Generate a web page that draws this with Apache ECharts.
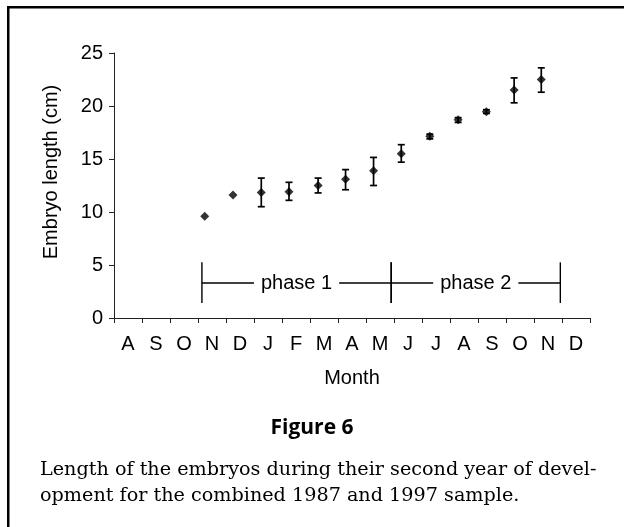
<!DOCTYPE html>
<html>
<head>
<meta charset="utf-8">
<script src="https://cdn.jsdelivr.net/npm/echarts@6/dist/echarts.min.js"></script>
<style>
  html, body { margin: 0; padding: 0; background: #fff; }
  #main { width: 624px; height: 527px; }
</style>
</head>
<body>
<div id="main"></div>
<script>
  // month labels along the bottom (Aug .. Dec of the following year)
  var months = ['A', 'S', 'O', 'N', 'D', 'J', 'F', 'M', 'A', 'M', 'J', 'J', 'A', 'S', 'O', 'N', 'D'];
  // sample positions on the month scale (0 = start of first A)
  var sampleX = [3.24, 4.25, 5.26, 6.25, 7.29, 8.27, 9.27, 10.26, 11.28, 12.29, 13.3, 14.29, 15.26];
  var meanLen = [9.6, 11.6, 11.85, 11.9, 12.5, 13.1, 13.9, 15.5, 17.15, 18.7, 19.45, 21.5, 22.5];
  var errLow  = [null, null, 10.5, 11.1, 11.8, 12.1, 12.5, 14.7, 16.9, 18.45, 19.3, 20.3, 21.3];
  var errHigh = [null, null, 13.2, 12.8, 13.2, 14.0, 15.15, 16.35, 17.35, 18.9, 19.65, 22.65, 23.6];
  var yTicks = [0, 5, 10, 15, 20, 25];
  // phase bracket
  var phaseStart = [3.14, 9.9];
  var phaseEnd = [9.9, 15.94];
  var phaseNames = ['phase 1', 'phase 2'];
  var phaseY = 3.3, phaseTop = 5.25, phaseBottom = 1.42;

  var sans = '"Liberation Sans", Arial, sans-serif';

  var points = sampleX.map(function (x, i) { return [x, meanLen[i]]; });
  var bars = [];
  sampleX.forEach(function (x, i) {
    if (errLow[i] != null) bars.push([x, errLow[i], errHigh[i]]);
  });
  var phases = phaseNames.map(function (n, i) { return [phaseStart[i], phaseEnd[i], n]; });

  var chart = echarts.init(document.getElementById('main'));
  chart.setOption({
    animation: false,
    backgroundColor: '#fff',
    grid: { left: 114, right: 34, top: 53, bottom: 209 },
    xAxis: [{
      type: 'category',
      data: months,
      boundaryGap: true,
      name: 'Month',
      nameLocation: 'middle',
      nameGap: 50,
      nameTextStyle: { fontFamily: sans, fontSize: 20, color: '#000' },
      axisLine: { lineStyle: { color: '#222', width: 1 } },
      axisTick: { show: true, length: 5, lineStyle: { color: '#222' } },
      axisLabel: { fontFamily: sans, fontSize: 20, color: '#000', margin: 16, interval: 0 },
      splitLine: { show: false }
    }, {
      type: 'value',
      min: 0,
      max: months.length,
      show: false
    }],
    yAxis: {
      type: 'value',
      min: yTicks[0],
      max: yTicks[yTicks.length - 1],
      interval: 5,
      axisLine: { show: true, lineStyle: { color: '#222', width: 1 } },
      axisTick: { show: true, length: 5, lineStyle: { color: '#222' } },
      axisLabel: { fontFamily: sans, fontSize: 20, color: '#000', margin: 11 },
      splitLine: { show: false }
    },
    series: [{
      type: 'custom',
      xAxisIndex: 1,
      data: bars,
      renderItem: function (params, api) {
        var top = api.coord([api.value(0), api.value(2)]);
        var bot = api.coord([api.value(0), api.value(1)]);
        var half = 3.5;
        var st = { stroke: '#000', lineWidth: 1.7 };
        return {
          type: 'group',
          children: [
            { type: 'line', shape: { x1: top[0], y1: top[1], x2: bot[0], y2: bot[1] }, style: st },
            { type: 'line', shape: { x1: top[0] - half, y1: top[1], x2: top[0] + half, y2: top[1] }, style: st },
            { type: 'line', shape: { x1: bot[0] - half, y1: bot[1], x2: bot[0] + half, y2: bot[1] }, style: st }
          ]
        };
      },
      z: 3
    }, {
      type: 'scatter',
      xAxisIndex: 1,
      data: points,
      symbol: 'diamond',
      symbolSize: [9, 9],
      itemStyle: { color: '#000' },
      z: 4
    }, {
      // phase brackets with their labels
      type: 'custom',
      xAxisIndex: 1,
      data: phases,
      silent: true,
      renderItem: function (params, api) {
        var a = api.coord([api.value(0), phaseY]);
        var b = api.coord([api.value(1), phaseY]);
        var aTop = api.coord([api.value(0), phaseTop]);
        var aBot = api.coord([api.value(0), phaseBottom]);
        var bTop = api.coord([api.value(1), phaseTop]);
        var bBot = api.coord([api.value(1), phaseBottom]);
        var st = { stroke: '#000', lineWidth: 1.4 };
        return {
          type: 'group',
          children: [
            { type: 'line', shape: { x1: a[0], y1: a[1], x2: b[0], y2: b[1] }, style: st },
            { type: 'line', shape: { x1: aTop[0], y1: aTop[1], x2: aBot[0], y2: aBot[1] }, style: st },
            { type: 'line', shape: { x1: bTop[0], y1: bTop[1], x2: bBot[0], y2: bBot[1] }, style: st },
            {
              type: 'text',
              x: (a[0] + b[0]) / 2,
              y: a[1],
              z2: 10,
              style: {
                text: phaseNames[params.dataIndex],
                fontFamily: sans, fontSize: 20, fill: '#000',
                align: 'center', verticalAlign: 'middle',
                backgroundColor: '#fff', padding: [0, 7]
              }
            }
          ]
        };
      },
      z: 2
    }],
    graphic: [
      { type: 'rect', shape: { x: 7, y: 6, width: 617, height: 2.5 }, style: { fill: '#000' } },
      { type: 'rect', shape: { x: 7, y: 6, width: 2.5, height: 521 }, style: { fill: '#000' } },
      {
        type: 'text', x: 51, y: 172, rotation: Math.PI / 2,
        style: {
          text: 'Embryo length (cm)', fontFamily: sans, fontSize: 20, fill: '#000',
          align: 'center', verticalAlign: 'middle'
        }
      },
      {
        type: 'text', left: 'center', top: 418,
        style: { text: 'Figure 6', font: 'bold 21px "Open Sans", sans-serif', fill: '#000' }
      },
      {
        type: 'text', left: 40, top: 457,
        style: {
          text: 'Length of the embryos during their second year of devel-\nopment for the combined 1987 and 1997 sample.',
          font: '19.2px "DejaVu Serif", serif', lineHeight: 26, fill: '#000'
        }
      }
    ]
  });
</script>
</body>
</html>
